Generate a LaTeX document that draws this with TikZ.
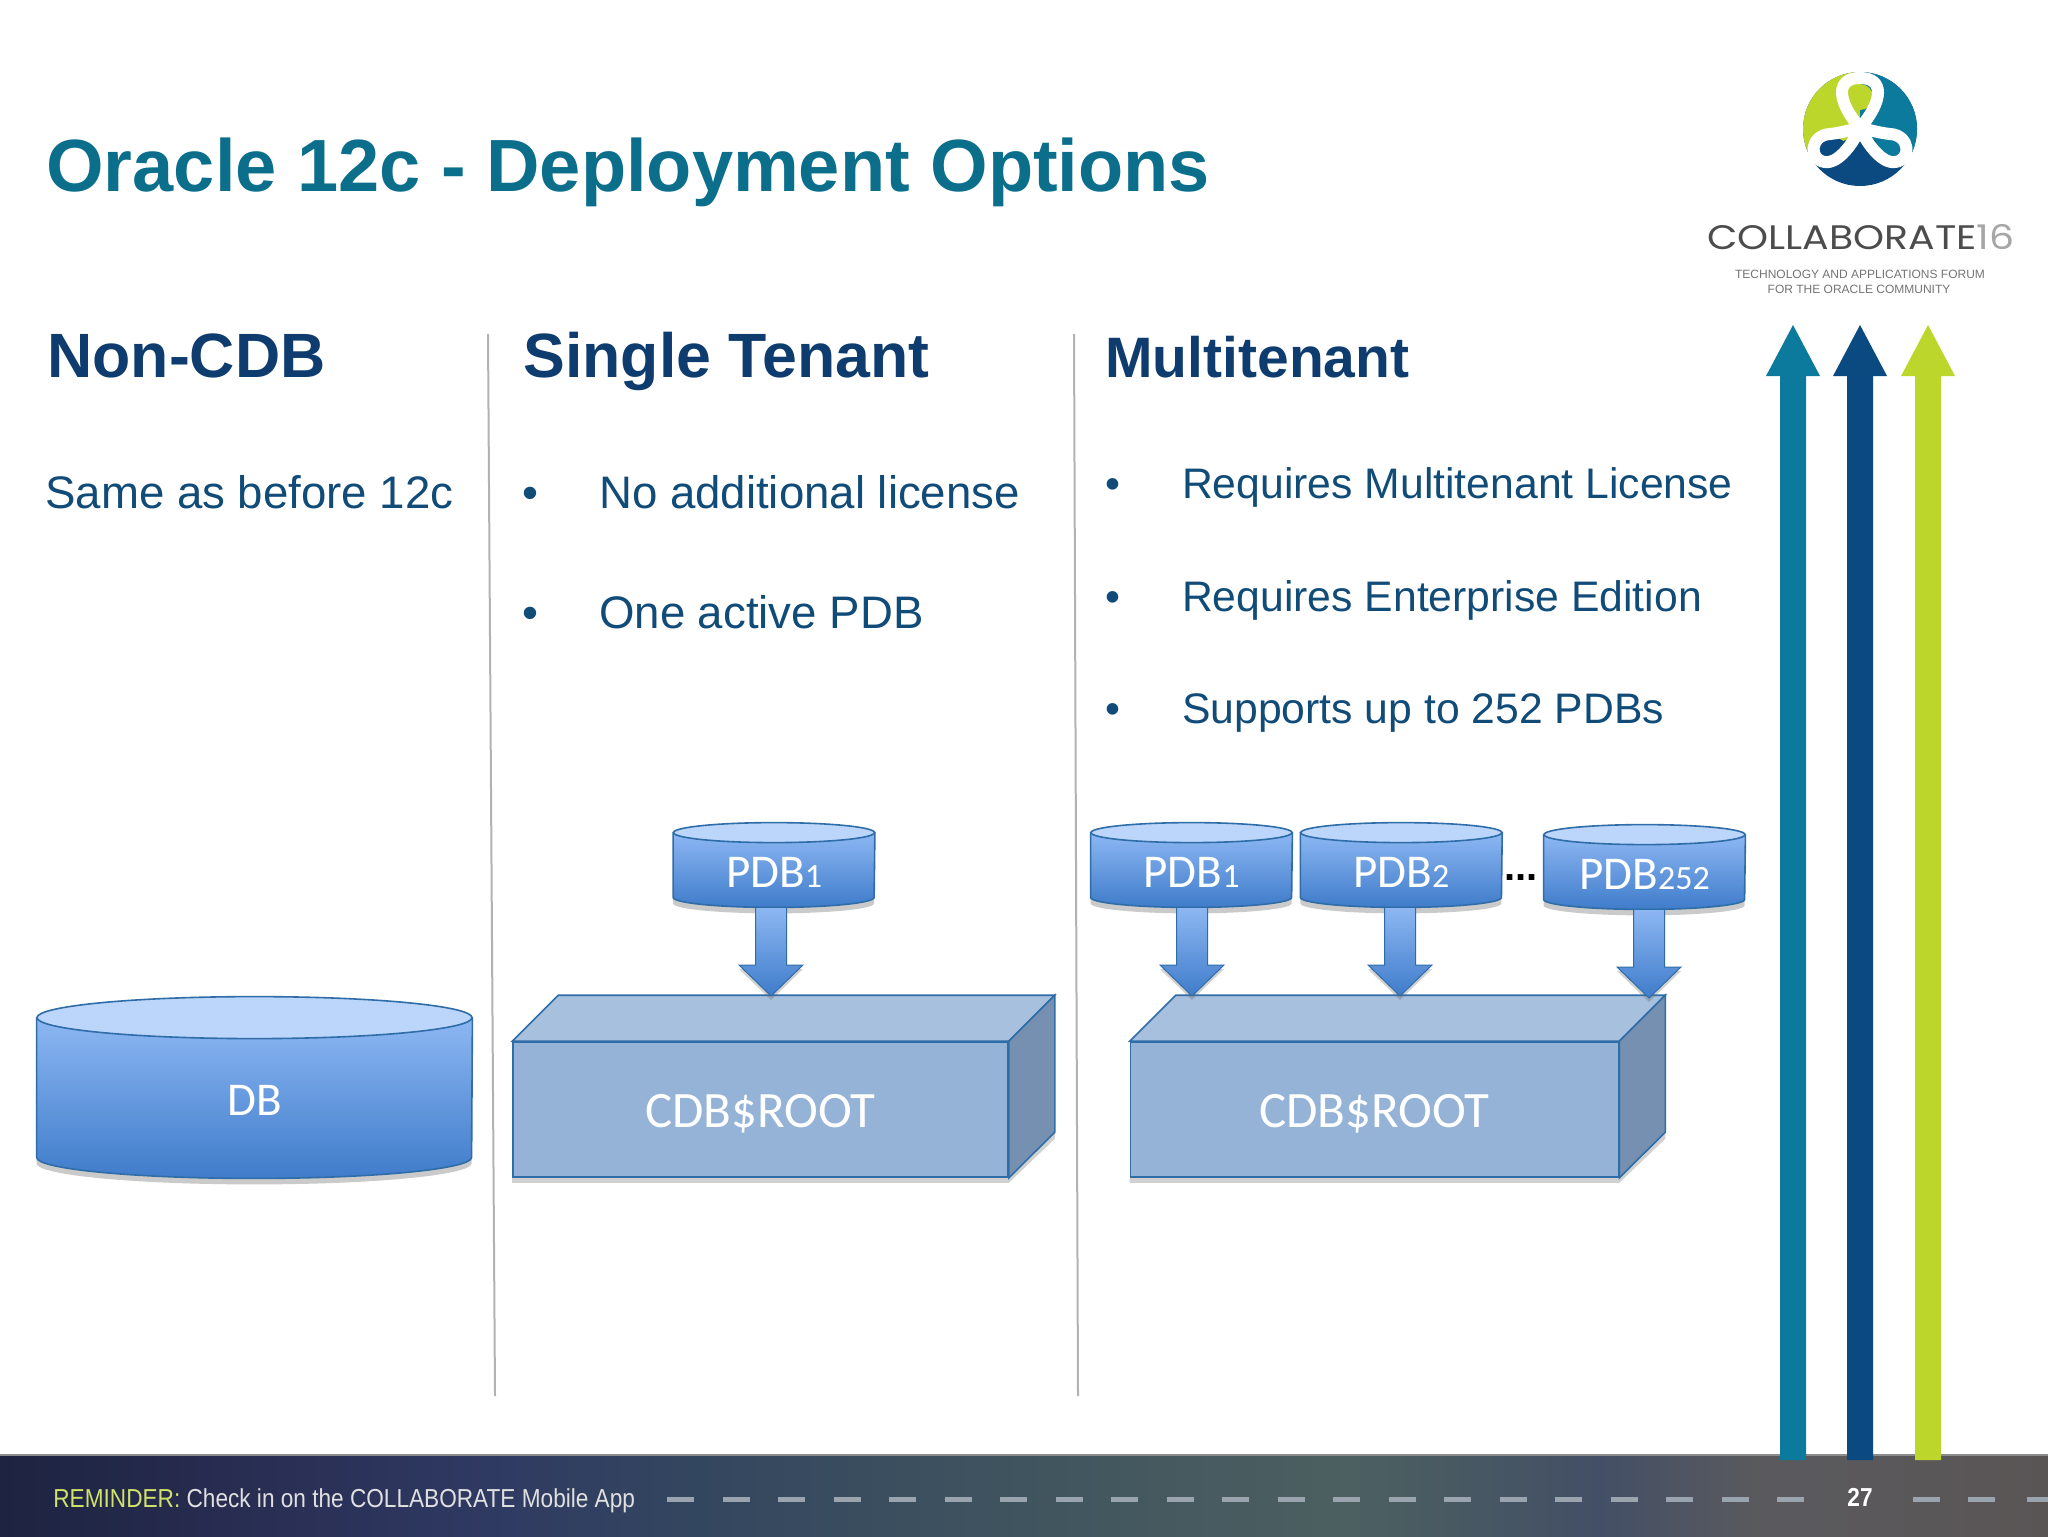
\documentclass[tikz,border=0pt]{standalone}
\usepackage{fontspec}
\setmainfont{Liberation Sans}
\newfontfamily\labelfont{Carlito}
\newfontfamily\logofont[FakeStretch=1.16]{Poppins}
\newfontfamily\footfont[FakeStretch=0.87]{Liberation Sans}
\usetikzlibrary{calc,backgrounds,positioning,shadows}

\definecolor{titleteal}{HTML}{0B6F8C}
\definecolor{headnavy}{HTML}{0E3C6E}
\definecolor{bodynavy}{HTML}{114B78}
\definecolor{laneteal}{HTML}{0C7A9C}
\definecolor{lanenavy}{HTML}{0B4A80}
\definecolor{lanegreen}{HTML}{BDD62C}
\definecolor{edgeblue}{HTML}{2F6DA8}
\definecolor{cantop}{HTML}{BCD5FB}
\definecolor{canupper}{HTML}{8DB7F3}
\definecolor{canlower}{HTML}{3F7CCA}
\definecolor{rootmain}{HTML}{95B3D7}
\definecolor{rootupper}{HTML}{A7C0DE}
\definecolor{rootside}{HTML}{7590B1}
\definecolor{dashgrey}{HTML}{9AA4AE}
\definecolor{footA}{HTML}{1D2340}
\definecolor{footB}{HTML}{2A2F55}
\definecolor{footC}{HTML}{2F3A62}
\definecolor{footD}{HTML}{33465F}
\definecolor{footE}{HTML}{40545F}
\definecolor{footF}{HTML}{4C6060}
\definecolor{footG}{HTML}{434F66}
\definecolor{footH}{HTML}{5A5A5E}
\definecolor{footI}{HTML}{5A5555}
\pgfdeclarehorizontalshading{footerband}{100bp}{
  color(0bp)=(footA);
  color(25bp)=(footA);
  color(32bp)=(footB);
  color(37bp)=(footC);
  color(42bp)=(footD);
  color(50bp)=(footE);
  color(58bp)=(footF);
  color(64bp)=(footG);
  color(68bp)=(footH);
  color(75bp)=(footI);
  color(100bp)=(footI)}

% block arrow from a node to a point
\newcommand{\blockarrow}[2]{
  \path[blockfill] let \p1=(#1.south), \p2=(#2) in
    (\x2-7.75pt,\y1) -- (\x2-7.75pt,\y2+15.5pt) -- (\x2-16pt,\y2+15.5pt) -- (\x2,\y2)
    -- (\x2+16pt,\y2+15.5pt) -- (\x2+7.75pt,\y2+15.5pt) -- (\x2+7.75pt,\y1) -- cycle;
}

\begin{document}
\begin{tikzpicture}
  [x=0.5pt,y=-0.5pt,
  slidetitle/.style={anchor=base west,inner sep=0,text=titleteal,font=\fontsize{37}{40}\selectfont\bfseries},
  heading/.style={anchor=base west,inner sep=0,text=headnavy,font=\fontsize{31.3}{36}\selectfont\bfseries},
  bodytext/.style={anchor=base west,inner sep=0,text=bodynavy,font=\fontsize{22.8}{26}\selectfont},
  smalltext/.style={anchor=base west,inner sep=0,text=bodynavy,font=\fontsize{21.35}{24}\selectfont},
  candb/.style={rectangle,inner sep=0,minimum width=217.5pt,minimum height=80pt,text height=17pt,text depth=0pt,text=white,font=\labelfont\fontsize{23.5}{26}\selectfont},
  canpdb/.style={rectangle,inner sep=0,minimum width=100.5pt,minimum height=37pt,text height=17pt,text depth=0pt,text=white,font=\labelfont\fontsize{23.5}{26}\selectfont},
  rootfront/.style={rectangle,inner sep=0,draw=edgeblue,line width=0.8pt,fill=rootmain,minimum height=67.5pt,text height=17.5pt,text depth=0pt,text=white,font=\labelfont\fontsize{25.5}{28}\selectfont},
  canbody/.style={draw=edgeblue,line width=0.8pt,top color=canupper,bottom color=canlower,
    drop shadow={shadow xshift=0pt,shadow yshift=-3pt,opacity=0.35,fill=black!60}},
  blockfill/.style={draw=edgeblue,line width=0.5pt,top color=canupper,bottom color=canlower,
    drop shadow={shadow xshift=0pt,shadow yshift=-2pt,opacity=0.3,fill=black!60}},
  divider/.style={draw=black!30,line width=1pt}]

\useasboundingbox (0,0) rectangle (2048,1536);

% footer
\node[rectangle,inner sep=0,minimum width=1024pt,minimum height=40.5pt,shading=footerband] (footer) at (1024,1495.5) {};
\draw[black!45,line width=1pt] (footer.north west) -- (footer.north east);
\foreach \dashx in {667,722.5,...,1790,1913,1968,2027}
  \fill[dashgrey] (\dashx,1496.5) rectangle ++(27,5.5);
\node[inner sep=0,text=white,font=\footfont\fontsize{13}{15}\selectfont\bfseries] (page) at (1860,1497) {27};
\node[anchor=base west,inner sep=0,font=\footfont\fontsize{13}{15}\selectfont] (reminder) at (53,1507)
  {\textcolor{lanegreen!70!white}{REMINDER:} \textcolor{white!88!black}{Check in on the COLLABORATE Mobile App}};

% title and column heads
\node[slidetitle] (title) at (46,191) {Oracle 12c - Deployment Options};
\node[heading] (noncdb) at (47,377) {Non-CDB};
\node[heading] (single) at (523,377) {Single Tenant};
\node[heading,font=\fontsize{28.5}{32}\selectfont\bfseries] (multi) at (1105,377) {Multitenant};

\coordinate (div-a-top) at (488,334);
\coordinate (div-a-foot) at (495,1396);
\coordinate (div-b-top) at (1074,334);
\coordinate (div-b-foot) at (1078,1396);
\draw[divider] (div-a-top) -- (div-a-foot);
\draw[divider] (div-b-top) -- (div-b-foot);

% column text
\node[bodytext] (same) at (45,508.5) {Same as before 12c};
\node[bodytext] (dot-a) at (522,508.5) {•};
\node[bodytext] (nolicense) [base right=30pt of dot-a] {No additional license};
\node[bodytext] (dot-b) at (522,628.5) {•};
\node[bodytext] (oneactive) [base right=30pt of dot-b] {One active PDB};
\node[smalltext] (dot-c) at (1105,498.5) {•};
\node[smalltext] (reqlicense) [base right=30.5pt of dot-c] {Requires Multitenant License};
\node[smalltext] (dot-d) at (1105,611.5) {•};
\node[smalltext] (reqedition) [base right=30.5pt of dot-d] {Requires Enterprise Edition};
\node[smalltext] (dot-e) at (1105,723.5) {•};
\node[smalltext] (supports) [base right=30.5pt of dot-e] {Supports up to 252 PDBs};

% containers
\node[candb] (db) at (254.5,1098) {DB};
\node[rootfront,minimum width=247.5pt] (root-single) at (760.5,1109.5) {CDB\$ROOT};
\node[rootfront,minimum width=244pt] (root-multi) at (1374.5,1109.5) {CDB\$ROOT};
\node[canpdb] (pdb-single) at (774,870) {PDB{\fontsize{17}{17}\selectfont 1}};
\node[canpdb] (pdb-one) at (1191.5,870) {PDB{\fontsize{17}{17}\selectfont 1}};
\node[canpdb] (pdb-two) [right=4pt of pdb-one] {PDB{\fontsize{17}{17}\selectfont 2}};
\node[canpdb] (pdb-last) at (1644.5,872) {PDB{\fontsize{17}{17}\selectfont 252}};
\node[inner sep=0,font=\fontsize{20}{20}\selectfont\bfseries] (more) at (1521,878) {...};

\begin{scope}[on background layer]
\foreach \root in {root-single,root-multi} {
  \fill[black!60,opacity=0.3] (\root.south west) -- ++(0,5) -- ($(\root.south east)+(0,5)$) -- ++(46,-44) -- ++(0,-6) -- cycle;
  \draw[edgeblue,line width=0.8pt,fill=rootupper] (\root.north west) -- ++(46,-46) -- ($(\root.north east)+(46,-46)$) -- (\root.north east) -- cycle;
  \draw[edgeblue,line width=0.8pt,fill=rootside] (\root.north east) -- ++(46,-46) -- ++(0,137) -- (\root.south east) -- cycle;
}
\foreach \can/\rx/\ry in {db/217.5/21,pdb-single/100.5/10,pdb-one/100.5/10,pdb-two/100.5/10,pdb-last/100.5/10} {
  \path[canbody] (\can.north west) -- ($(\can.south west)+(0,-\ry)$)
    arc[start angle=180,end angle=0,x radius=\rx,y radius=\ry] -- (\can.north east) -- cycle;
  \draw[edgeblue,line width=0.8pt,fill=cantop] (\can.north) ellipse [x radius=\rx,y radius=\ry];
}
\end{scope}

% arrows into the roots
\coordinate (tip-single) at (771,996);
\coordinate (tip-one) at (1192,996);
\coordinate (tip-two) at (1400,996);
\coordinate (tip-last) at (1649,998);
\blockarrow{pdb-single}{tip-single}
\blockarrow{pdb-one}{tip-one}
\blockarrow{pdb-two}{tip-two}
\blockarrow{pdb-last}{tip-last}

% logo
\begin{scope}
\clip (1860,129) circle [radius=57];
\fill[lanenavy] (1800,60) rectangle (1920,190);
\fill[lanegreen] (1860,135) -- (1860,60) -- (1790,60) -- (1790,160) -- cycle;
\fill[laneteal] (1860,135) -- (1860,60) -- (1930,60) -- (1930,160) -- cycle;
\end{scope}
\fill[lanegreen] (1860,97) circle [radius=13];
\fill[lanenavy] (1830,148) ellipse [x radius=17,y radius=11];
\fill[laneteal] (1890,148) ellipse [x radius=17,y radius=11];
\draw[white,line width=6pt,line join=round] (1860,128)
  .. controls (1836,100) and (1836,78) .. (1860,78)
  .. controls (1884,78) and (1884,100) .. (1860,128)
  .. controls (1850,150) and (1835,164) .. (1825,162)
  .. controls (1808,160) and (1810,135) .. (1830,134)
  .. controls (1840,133) and (1850,130) .. (1860,128)
  .. controls (1870,130) and (1880,133) .. (1890,134)
  .. controls (1910,135) and (1912,160) .. (1895,162)
  .. controls (1885,164) and (1870,150) .. (1860,128) -- cycle;
\node[inner sep=0,font=\logofont\fontsize{17}{18}\selectfont,text=black!70,anchor=base west] (collab) at (1707,249) {COLLABORATE\textcolor{black!35}{16}};
\node[inner sep=0,font=\fontsize{6}{7}\selectfont,text=black!55] (forum) at (1860,274) {TECHNOLOGY AND APPLICATIONS FORUM};
\node[inner sep=0,font=\fontsize{6}{7}\selectfont,text=black!55] (community) at (1859,289) {FOR THE ORACLE COMMUNITY};

% lanes
\foreach \lane/\lanex/\col in {a/1793/laneteal,b/1860/lanenavy,c/1928/lanegreen} {
  \coordinate (lane-\lane-top) at (\lanex,325);
  \coordinate (lane-\lane-foot) at (\lanex,1460);
  \fill[\col] let \p1=(lane-\lane-top), \p2=(lane-\lane-foot) in
    (\x1,\y1) -- (\x1+13.5pt,\y1-25.5pt) -- (\x1+6.5pt,\y1-25.5pt) -- (\x1+6.5pt,\y2)
    -- (\x1-6.5pt,\y2) -- (\x1-6.5pt,\y1-25.5pt) -- (\x1-13.5pt,\y1-25.5pt) -- cycle;
}

\end{tikzpicture}
\end{document}
